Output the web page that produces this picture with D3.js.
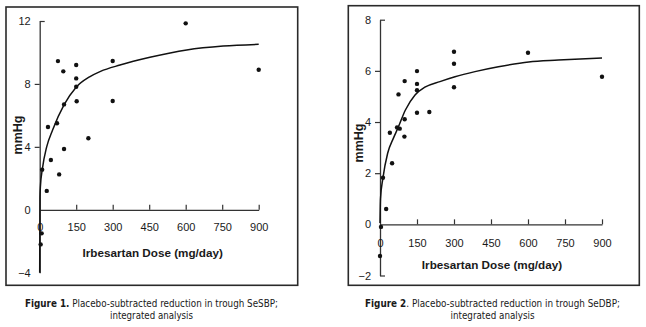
<!DOCTYPE html>
<html><head><meta charset="utf-8">
<script src="https://cdn.jsdelivr.net/npm/d3@7"></script>
<style>
html,body{margin:0;padding:0;background:#fff;}
svg{display:block;}
text{fill:#1a1a1a;}
</style></head>
<body>
<svg id="c" width="646" height="327"></svg>
<script>
// ---------- DATA ----------
const xTicks = [0, 150, 300, 450, 600, 750, 900];
const sbpTicks = [-4, 0, 4, 8, 12];
const dbpTicks = [-2, 0, 2, 4, 6, 8];

// Figure 1: SeSBP observed points
const sbpDose   = [600, 900, 75, 97, 150, 150, 150, 152, 300, 300, 100, 34, 71, 200, 100, 46, 10, 80, 29, 8, 4];
const sbpChange = [11.85, 8.9, 9.45, 8.8, 9.2, 8.35, 7.82, 6.9, 9.46, 6.91, 6.7, 5.26, 5.5, 4.55, 3.86, 3.16, 2.55, 2.25, 1.2, -1.5, -2.2];
// Figure 1: fitted curve
const sbpCurveDose = [0, 1, 3, 10.7, 28.7, 53, 101, 149, 205, 250, 330, 453, 604, 754, 900];
const sbpCurveFit  = [-4, 0.8, 1.5, 2.57, 4.0, 5.07, 6.7, 7.78, 8.45, 8.8, 9.2, 9.69, 10.16, 10.41, 10.52];

// Figure 2: SeDBP observed points
const dbpDose   = [300, 300, 300, 600, 900, 150, 150, 150, 150, 200, 100, 75, 100, 69, 80, 40, 99, 49, 12, 25, 4, 0];
const dbpChange = [6.75, 6.28, 5.36, 6.71, 5.77, 5.99, 5.49, 5.24, 4.36, 4.39, 5.60, 5.08, 4.11, 3.79, 3.74, 3.58, 3.43, 2.39, 1.82, 0.60, -0.10, -1.24];
// Figure 2: fitted curve
const dbpCurveDose = [0, 2, 12, 31, 54, 72, 103, 142, 182, 243, 304, 385, 480, 603, 723, 900];
const dbpCurveFit  = [0.05, 1.0, 1.82, 2.78, 3.36, 3.75, 4.47, 5.06, 5.36, 5.58, 5.77, 5.97, 6.16, 6.35, 6.42, 6.5];

const captions = [
  {bold: "Figure 1.", rest: " Placebo-subtracted reduction in trough SeSBP;", line2: "integrated analysis"},
  {bold: "Figure 2", rest: ". Placebo-subtracted reduction in trough SeDBP;", line2: "integrated analysis"}
];

// ---------- DRAW ----------
const svg = d3.select("#c");
const FONT = "'Liberation Sans', Arial, Helvetica, sans-serif";
const NARROW = "'Liberation Sans Narrow', 'DejaVu Sans Condensed', 'Liberation Sans', sans-serif";

function drawChart(cfg) {
  const g = svg.append("g");
  // frame
  g.append("rect").attr("x", cfg.box[0]).attr("y", cfg.box[1])
    .attr("width", cfg.box[2]).attr("height", cfg.box[3])
    .attr("fill", "none").attr("stroke", "#2a2a2a").attr("stroke-width", 1.6);

  const x = d3.scaleLinear().domain([0, 900]).range(cfg.xr);
  const y = d3.scaleLinear().domain(cfg.yd).range(cfg.yr);

  // y axis
  const ya = g.append("g").attr("transform", `translate(${cfg.xr[0]},0)`)
    .call(d3.axisLeft(y).tickValues(cfg.yTicks).tickSize(5).tickSizeOuter(0).tickPadding(4).tickFormat(d3.format("d")));
  ya.select(".domain").attr("stroke", "#333").attr("stroke-width", 1.3);
  ya.selectAll(".tick line").attr("stroke", "#333").attr("stroke-width", 1.2)
    .each(function(d) {
      const s = d3.select(this);
      if (d === cfg.yd[1] || (d === cfg.yd[0] && cfg.bottomCap)) s.attr("x2", 5);
      else if (cfg.noTick.includes(d)) s.attr("x2", 0);
    });
  ya.selectAll(".tick text").attr("font-family", FONT).attr("font-size", 11).attr("fill", "#1a1a1a");

  // x axis (ticks up, labels below)
  const xa = g.append("g").attr("transform", `translate(0,${y(0)})`)
    .call(d3.axisBottom(x).tickValues(xTicks).tickSize(-5).tickSizeOuter(0).tickPadding(cfg.xPad));
  xa.select(".domain").attr("stroke", "#333").attr("stroke-width", 1.3);
  xa.selectAll(".tick line").attr("stroke", "#333").attr("stroke-width", 1.2)
    .attr("y2", d => d === 0 ? 0 : -5);
  xa.selectAll(".tick text").attr("font-family", FONT).attr("font-size", 11).attr("fill", "#1a1a1a");

  // fitted curve
  const line = d3.line().x((d, i) => x(cfg.cx[i])).y((d, i) => y(cfg.cy[i])).curve(d3.curveMonotoneX);
  g.append("path").datum(cfg.cy).attr("d", line)
    .attr("fill", "none").attr("stroke", "#111").attr("stroke-width", 1.5);

  // points
  g.selectAll("circle.pt").data(cfg.px).enter().append("circle")
    .attr("class", "pt")
    .attr("cx", d => x(d)).attr("cy", (d, i) => y(cfg.py[i]))
    .attr("r", 2.2).attr("fill", "#111");

  // axis titles
  g.append("text").attr("x", cfg.xTitle[0]).attr("y", cfg.xTitle[1])
    .attr("text-anchor", "middle").attr("font-family", FONT).attr("font-weight", "bold")
    .attr("font-size", 11.7).text("Irbesartan Dose (mg/day)");
  g.append("text").attr("transform", `translate(${cfg.yTitle[0]},${cfg.yTitle[1]}) rotate(-90)`)
    .attr("text-anchor", "middle").attr("font-family", FONT).attr("font-weight", "bold")
    .attr("font-size", 12.5).text("mmHg");

  // caption
  const cap = g.append("text").attr("x", cfg.capX).attr("y", 307.3)
    .attr("text-anchor", "middle").attr("font-family", NARROW).attr("font-size", 10.5)
    .attr("textLength", cfg.capW[0]).attr("lengthAdjust", "spacingAndGlyphs");
  cap.append("tspan").attr("font-weight", "bold").text(cfg.cap.bold);
  cap.append("tspan").text(cfg.cap.rest);
  g.append("text").attr("x", cfg.capX).attr("y", 318.5)
    .attr("text-anchor", "middle").attr("font-family", NARROW).attr("font-size", 10.5)
    .attr("textLength", cfg.capW[1]).attr("lengthAdjust", "spacingAndGlyphs")
    .text(cfg.cap.line2);
}

drawChart({
  box: [6, 7, 291.7, 278.3],
  xr: [39.7, 258.7], yd: [-4, 12], yr: [272.7, 21],
  yTicks: sbpTicks, noTick: [0, -4], bottomCap: false,
  xPad: 13.5,
  cx: sbpCurveDose, cy: sbpCurveFit, px: sbpDose, py: sbpChange,
  xTitle: [152.7, 257], yTitle: [22, 135],
  cap: captions[0], capX: 151.5, capW: [253, 83]
});

drawChart({
  box: [348.3, 5.7, 291, 279.6],
  xr: [380, 602], yd: [-2, 8], yr: [275.5, 19.7],
  yTicks: dbpTicks, noTick: [0], bottomCap: true,
  xPad: 15,
  cx: dbpCurveDose, cy: dbpCurveFit, px: dbpDose, py: dbpChange,
  xTitle: [492, 268.5], yTitle: [362.5, 143],
  cap: captions[1], capX: 492.5, capW: [255, 84]
});
</script>
</body></html>
